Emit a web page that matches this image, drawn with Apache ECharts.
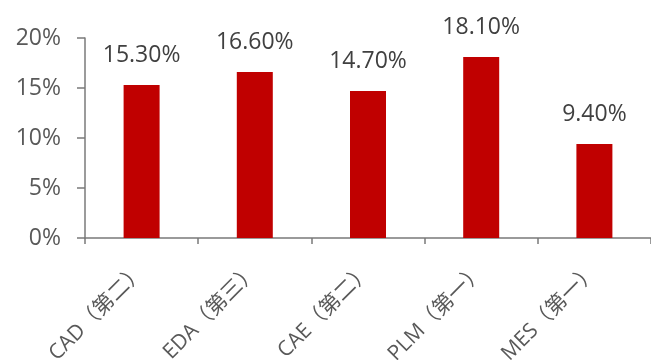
<!DOCTYPE html>
<html>
<head>
<meta charset="utf-8">
<script src="https://cdn.jsdelivr.net/npm/echarts@6/dist/echarts.min.js"></script>
<style>
html,body{margin:0;padding:0;background:#fff;}
#c{width:651px;height:360px;}
</style>
</head>
<body>
<div id="c"></div>
<script>
const categories = ['CAD（第二）', 'EDA（第三）', 'CAE（第二）', 'PLM（第一）', 'MES（第一）'];
const values = [15.3, 16.6, 14.7, 18.1, 9.4];
const yTicks = [0, 5, 10, 15, 20];

const FONT = '"Open Sans", "Noto Sans CJK SC", sans-serif';
const chart = echarts.init(document.getElementById('c'), null, {renderer: 'canvas'});
chart.setOption({
  animation: false,
  grid: {left: 85, right: 0, top: 38, bottom: 122, containLabel: false, outerBoundsMode: 'none'},
  xAxis: {
    type: 'category',
    data: categories,
    axisLine: {lineStyle: {color: '#7a7a7a', width: 1.5}},
    axisTick: {show: true, length: 6, lineStyle: {color: '#7a7a7a', width: 1.5}},
    axisLabel: {rotate: 45, margin: 30, fontSize: 21, color: '#595959', fontFamily: FONT, interval: 0}
  },
  yAxis: {
    type: 'value',
    min: yTicks[0],
    max: yTicks[yTicks.length - 1],
    interval: 5,
    splitLine: {show: false},
    axisLine: {show: true, lineStyle: {color: '#7a7a7a', width: 1.5}},
    axisTick: {show: true, inside: false, length: 8, lineStyle: {color: '#7a7a7a', width: 1.5}},
    axisLabel: {formatter: '{value}%', margin: 24, fontSize: 23, color: '#595959', fontFamily: FONT}
  },
  series: [{
    type: 'bar',
    data: values,
    barWidth: 36,
    itemStyle: {color: '#C00000'},
    label: {
      show: true,
      position: 'top',
      distance: 18,
      fontSize: 23,
      color: '#404040',
      fontFamily: FONT,
      formatter: p => p.value.toFixed(2) + '%'
    }
  }]
});
</script>
</body>
</html>
